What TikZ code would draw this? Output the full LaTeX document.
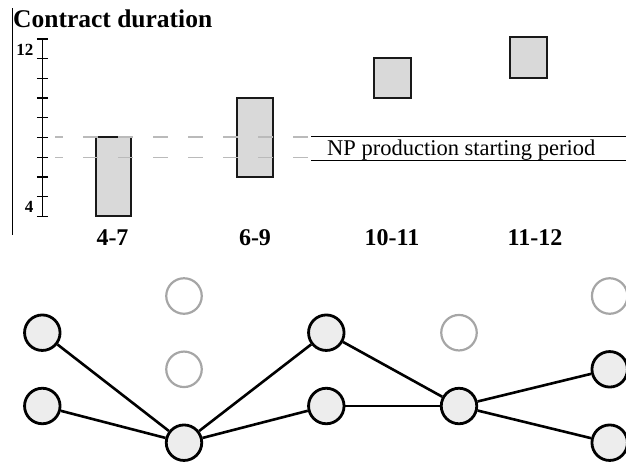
\documentclass[tikz,border=0pt]{standalone}
\usepackage{fontspec}
\setmainfont{Liberation Serif}
\begin{document}
\begin{tikzpicture}[x=1pt, y=-1pt,
  bar/.style={draw=black!90, line width=2.2pt, fill=black!15},
  period/.style={draw=black!27, line width=1.1pt, dash pattern=on 15pt off 20pt, dash phase=7pt},
  state/.style={circle, draw=black, line width=2.8pt, fill=black!7, minimum size=35.5pt, inner sep=0pt},
  unused/.style={circle, draw=black!35, line width=2.2pt, fill=white, minimum size=35.5pt, inner sep=0pt},
  link/.style={line width=2.6pt},
  rangelabel/.style={anchor=base, inner sep=0pt, font=\bfseries\fontsize{24}{28}\selectfont},
  ticklabel/.style={anchor=base east, inner sep=0pt, font=\bfseries\fontsize{17}{20}\selectfont}]
  \useasboundingbox (0,0) rectangle (626,464);

  % chart frame and axis
  \draw[line width=1.3pt] (12.7,8) -- (12.7,235);
  \node[anchor=base west, inner sep=0pt, font=\bfseries\fontsize{25.5}{30}\selectfont] (title) at (13,27.3) {Contract duration};
  \draw[line width=1.3pt] (42.3,39) -- (42.3,216.3);
  \foreach \i in {0,...,9}
    \draw[line width=1.3pt] (36.8,{216.3-19.7*\i}) -- ++(11,0);
  \node[ticklabel] (top) at (33.5,55) {12};
  \node[ticklabel] (bottom) at (33.5,212.3) {4};

  % contract ranges
  \draw[bar] (95.7,137) rectangle (131,216.3);
  \draw[bar] (236.7,97.7) rectangle (273.3,177);
  \draw[bar] (374,58.3) rectangle (411,98.3);
  \draw[bar] (510,37.3) rectangle (546.7,78.3);
  \node[rangelabel] (r47) at (112.5,245.7) {4-7};
  \node[rangelabel] (r69) at (255,245.7) {6-9};
  \node[rangelabel] (r1011) at (392,245.7) {10-11};
  \node[rangelabel] (r1112) at (535,245.7) {11-12};

  % starting period
  \draw[period] (55,137) -- (310,137);
  \draw[period] (55,157.3) -- (310,157.3);
  \draw[line width=1.3pt] (311,136.7) -- (626,136.7);
  \draw[line width=1.3pt] (311,160.7) -- (626,160.7);
  \node[anchor=base west, inner sep=0pt, font=\fontsize{22.5}{26}\selectfont] (np) at (327,155) {NP production starting period};

  % decision graph
  \node[state] (a1) at (42.3,332.7) {};
  \node[state] (a2) at (42.3,406) {};
  \node[unused] (b1) at (184,296) {};
  \node[unused] (b2) at (184,369.3) {};
  \node[state] (b3) at (184,442.7) {};
  \node[state] (c1) at (326.3,332.7) {};
  \node[state] (c2) at (326.3,406) {};
  \node[unused] (d1) at (459,332.7) {};
  \node[state] (d2) at (459,406) {};
  \node[unused] (e1) at (609.7,296) {};
  \node[state] (e2) at (609.7,369.3) {};
  \node[state] (e3) at (609.7,442.7) {};

  \draw[link] (a1) -- (b3);
  \draw[link] (a2) -- (b3);
  \draw[link] (b3) -- (c1);
  \draw[link] (b3) -- (c2);
  \draw[link] (c1) -- (d2);
  \draw[link] (c2) -- (d2);
  \draw[link] (d2) -- (e2);
  \draw[link] (d2) -- (e3);
\end{tikzpicture}
\end{document}
